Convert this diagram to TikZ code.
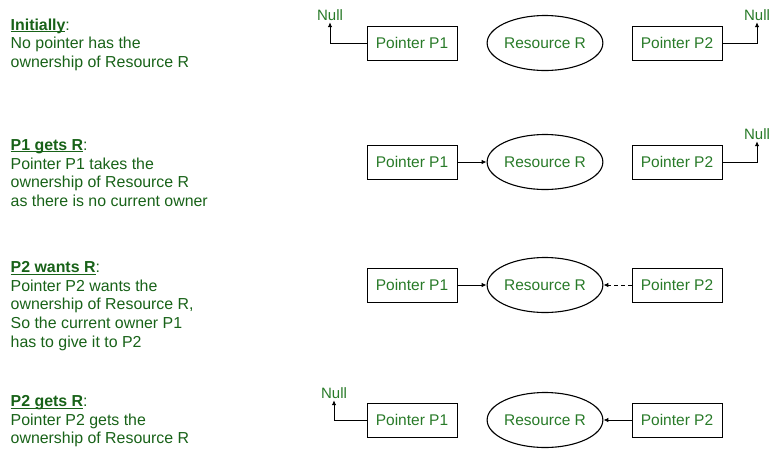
\documentclass[tikz,border=0pt]{standalone}
\usepackage{fontspec}
\setmainfont{Liberation Sans}
\usetikzlibrary{shapes.geometric,arrows.meta}

\definecolor{txtgreen}{RGB}{40,122,40}
\definecolor{hdgreen}{RGB}{24,98,24}
\newcommand\steptitle[1]{\setbox0=\hbox{\bfseries\color{hdgreen}#1}\rlap{\color{hdgreen}\rule[-1.8pt]{\wd0}{1pt}}\box0}

\begin{document}
\begin{tikzpicture}[x=1pt,y=-1pt,
		ptr/.style={draw,line width=1pt,minimum width=90pt,minimum height=34pt,inner sep=0pt,text=txtgreen,font=\fontsize{15.5}{18}\selectfont},
		res/.style={ellipse,draw,line width=1.1pt,minimum width=110pt,minimum height=55pt,inner sep=0pt,text=txtgreen,font=\fontsize{15.5}{18}\selectfont},
		nul/.style={text=txtgreen,inner sep=1.5pt,font=\fontsize{15}{17}\selectfont},
		desc/.style={anchor=north west,align=left,inner sep=0pt,text=txtgreen,font=\fontsize{15.9}{18.6}\selectfont},
		ptrarrow/.style={-{Latex[length=5pt,width=4.5pt]},line width=0.9pt}]
				\useasboundingbox (0,0) rectangle (782,459);

				% initially
				\node[desc] (txtA) at (10.5,18.4) {\steptitle{Initially}:\\No pointer has the\\ownership of Resource R};
				\node[ptr] (p1A) at (412,43) {Pointer P1};
				\node[res] (rA) at (545,43) {Resource R};
				\node[ptr] (p2A) at (677,43) {Pointer P2};
				\node[nul] (nullA1) at (330,15) {Null};
				\node[nul] (nullA2) at (757,15) {Null};

				\draw [ptrarrow](p1A.west) -| (nullA1.south);
				\draw [ptrarrow](p2A.east) -| (nullA2.south);

				% P1 gets R
				\node[desc] (txtB) at (10.5,139.4) {\steptitle{P1 gets R}:\\Pointer P1 takes the\\ownership of Resource R\\as there is no current owner};
				\node[ptr] (p1B) at (412,162) {Pointer P1};
				\node[res] (rB) at (545,162) {Resource R};
				\node[ptr] (p2B) at (677,162) {Pointer P2};
				\node[nul] (nullB2) at (757,134) {Null};

				\draw [ptrarrow](p1B) -- (rB);
				\draw [ptrarrow](p2B.east) -| (nullB2.south);

				% P2 wants R
				\node[desc] (txtC) at (10.5,261.4) {\steptitle{P2 wants R}:\\Pointer P2 wants the\\ownership of Resource R,\\So the current owner P1\\has to give it to P2};
				\node[ptr] (p1C) at (412,285) {Pointer P1};
				\node[res] (rC) at (545,285) {Resource R};
				\node[ptr] (p2C) at (677,285) {Pointer P2};

				\draw [ptrarrow](p1C) -- (rC);
				\draw [ptrarrow,dash pattern=on 4pt off 3pt](p2C) -- (rC);

				% P2 gets R
				\node[desc] (txtD) at (10.5,395.4) {\steptitle{P2 gets R}:\\Pointer P2 gets the\\ownership of Resource R};
				\node[ptr] (p1D) at (412,420) {Pointer P1};
				\node[res] (rD) at (545,420) {Resource R};
				\node[ptr] (p2D) at (677,420) {Pointer P2};
				\node[nul] (nullD1) at (334,393) {Null};

				\draw [ptrarrow](p1D.west) -| (nullD1.south);
				\draw [ptrarrow](p2D) -- (rD);
			\end{tikzpicture}
\end{document}
